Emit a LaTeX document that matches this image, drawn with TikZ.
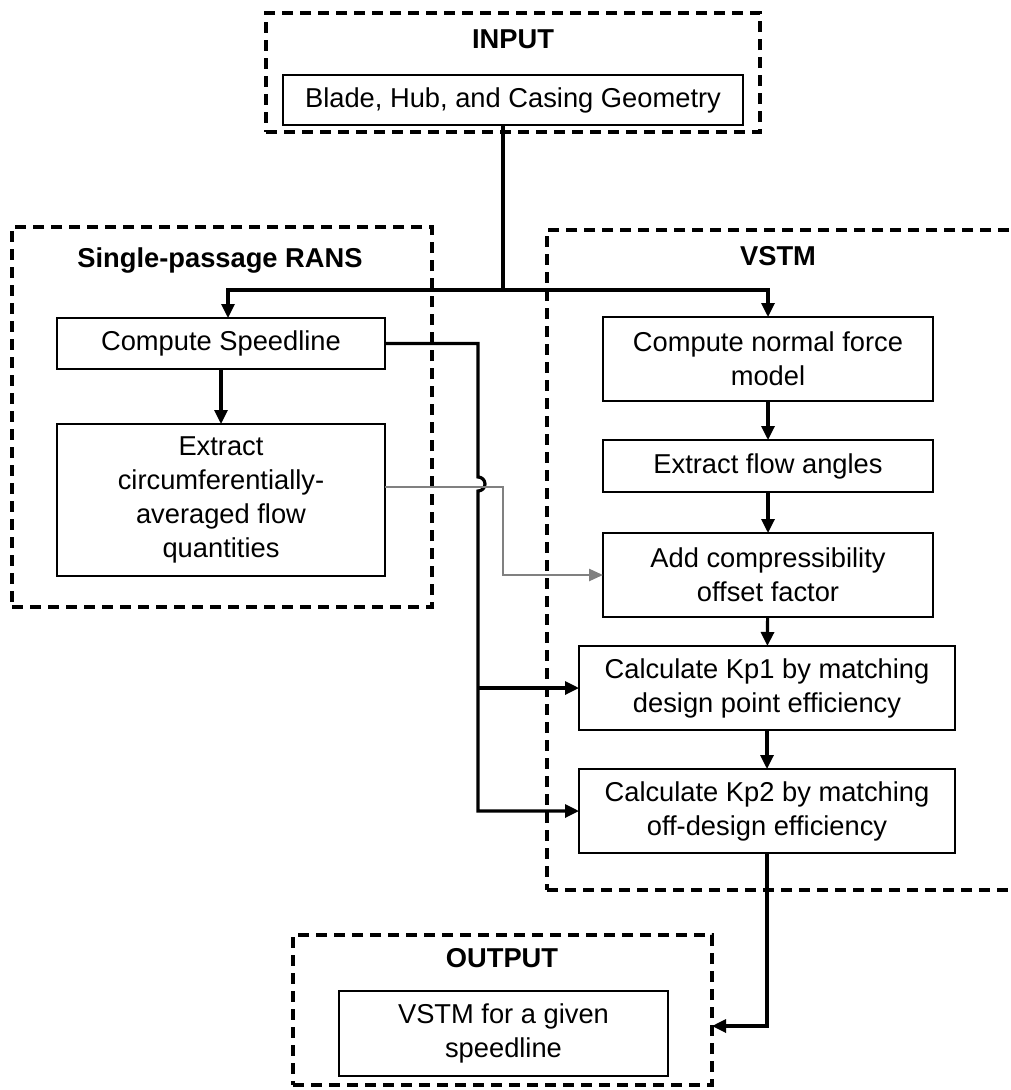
\documentclass[tikz,border=0pt]{standalone}
\usepackage{fontspec}
\setmainfont{Liberation Sans}
\usetikzlibrary{arrows.meta,positioning}

\begin{document}
\begin{tikzpicture}[x=1pt,y=-1pt,every node/.style={outer sep=0pt,inner sep=0pt,align=center}]

\tikzstyle{procbox}=[draw,line width=2.1pt,font=\fontsize{27.3}{34}\selectfont]
\tikzstyle{groupbox}=[draw,line width=3.2pt,dash pattern=on 11pt off 7pt]
\tikzstyle{grouptitle}=[anchor=base,font=\fontsize{27.3}{34}\selectfont\bfseries]
\tikzstyle{link}=[line width=3.2pt]
\tikzstyle{flow}=[link,-{Triangle[length=14pt,width=13pt]}]
\tikzstyle{dataflow}=[line width=2.5pt,black!50,-{Triangle[length=14pt,width=12pt]}]

\useasboundingbox (0,0) rectangle (1010,1090);

% dashed groups
\node (input) at (513,72.5) [groupbox,minimum width=494,minimum height=119] {};
\node (rans) at (222,417) [groupbox,minimum width=420,minimum height=380] {};
\node (vstm) at (781,560) [groupbox,minimum width=468,minimum height=660] {};
\node (output) at (502.5,1010) [groupbox,minimum width=419,minimum height=150] {};

\node (inputtitle) at (513,48) [grouptitle] {INPUT};
\node (ranstitle) at (220,267) [grouptitle] {Single-passage RANS};
\node (vstmtitle) at (778,265) [grouptitle] {VSTM};
\node (outputtitle) at (502,967) [grouptitle] {OUTPUT};

% process boxes
\node (geom) at (513,100) [procbox,minimum width=460,minimum height=50] {Blade, Hub, and Casing Geometry};
\node (speed) at (221,343.5) [procbox,minimum width=328,minimum height=51] {Compute Speedline};
\node (extract) at (221,500) [procbox,minimum width=328,minimum height=152] {Extract\\circumferentially-\\averaged flow\\quantities};
\node (normal) at (768,359) [procbox,minimum width=330,minimum height=84] {Compute normal force\\model};
\node (angles) at (768,466) [procbox,minimum width=330,minimum height=52] {Extract flow angles};
\node (compress) at (768,575) [procbox,minimum width=330,minimum height=84] {Add compressibility\\offset factor};
\node (kp1) at (767,688) [procbox,minimum width=376,minimum height=84] {Calculate Kp1 by matching\\design point efficiency};
\node (kp2) at (767,811) [procbox,minimum width=376,minimum height=84] {Calculate Kp2 by matching\\off-design efficiency};
\node (result) at (503.5,1033.5) [procbox,minimum width=329,minimum height=85] {VSTM for a given\\speedline};

% connectors
\coordinate (bus) at (503,290);
\coordinate (jog) at (478,343.5);
\draw [link] (geom.south -| bus) -- (bus);
\draw [flow] (bus) -| ([xshift=7pt]speed.north);
\draw [flow] (bus) -| (normal.north);
\draw [flow] (speed) -- (extract);
\draw [flow] (normal) -- (angles);
\draw [flow] (angles) -- (compress);
\draw [flow] (compress) -- (kp1);
\draw [flow] (kp1) -- (kp2);
\draw [flow] (speed.east) -- (jog) -- (478,477) arc (-90:90:7) |- (kp2.west);
\draw [flow] (jog |- kp1.west) -- (kp1.west);
\draw [dataflow] ([yshift=13pt]extract.east) -- (503,487) |- (compress.west);
\draw [flow] (kp2.south) |- ([yshift=-16pt]output.east);

\end{tikzpicture}
\end{document}
